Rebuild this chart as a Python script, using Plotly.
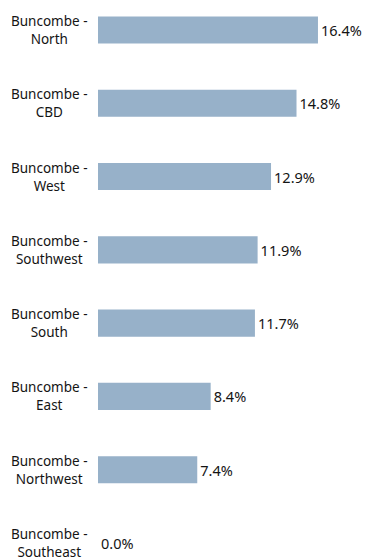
import plotly.graph_objects as go

# Share of total by Buncombe submarket
areas = ["North", "CBD", "West", "Southwest", "South", "East", "Northwest", "Southeast"]
shares = [16.4, 14.8, 12.9, 11.9, 11.7, 8.4, 7.4, 0.0]
prefix = "Buncombe -"

labels = [f"{prefix}<br>{a}" for a in areas]
value_text = [f"{v:.1f}%" for v in shares]

FONT = "Noto Sans"
INK = "#141414"

fig = go.Figure(
    go.Bar(
        x=shares,
        y=areas,
        orientation="h",
        marker=dict(color="#97b1c9", line=dict(width=0)),
        text=value_text,
        textposition="outside",
        textfont=dict(family=FONT, size=14.5, color=INK),
        cliponaxis=False,
        width=0.37,
        hoverinfo="skip",
    )
)

# Two-line category labels, centred on themselves and right-aligned to the axis
for lab, a in zip(labels, areas):
    fig.add_annotation(
        x=0, xref="paper", y=a, yref="y",
        text=lab, showarrow=False,
        xanchor="right", yanchor="middle", align="center",
        xshift=-8,
        font=dict(family=FONT, size=13.5, color=INK),
    )

fig.update_layout(
    width=368, height=560,
    margin=dict(l=98, r=0, t=0, b=0),
    paper_bgcolor="white", plot_bgcolor="white",
    showlegend=False,
    xaxis=dict(range=[0, 20.13], visible=False, fixedrange=True),
    yaxis=dict(
        type="category",
        categoryorder="array", categoryarray=areas,
        range=[7.232, -0.409],
        showticklabels=False, showgrid=False, zeroline=False,
        fixedrange=True,
    ),
)

fig.write_html("out.html", config={"displayModeBar": False})
